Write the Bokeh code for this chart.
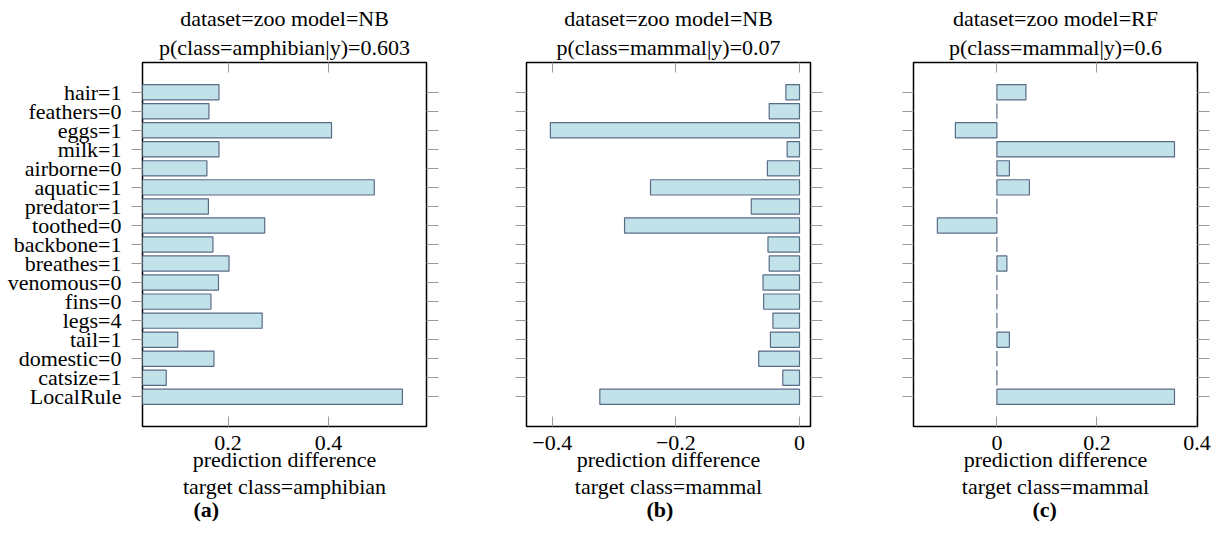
from bokeh.plotting import figure
from bokeh.models import (FactorRange, Range1d, LinearAxis, CategoricalAxis, FixedTicker,
                          CustomJSTickFormatter, Title, ColumnDataSource)
from bokeh.layouts import row
from bokeh.embed import file_html
from bokeh.resources import INLINE

features = ["hair=1", "feathers=0", "eggs=1", "milk=1", "airborne=0", "aquatic=1",
            "predator=1", "toothed=0", "backbone=1", "breathes=1", "venomous=0", "fins=0",
            "legs=4", "tail=1", "domestic=0", "catsize=1", "LocalRule"]

diff_a = [0.182, 0.162, 0.406, 0.182, 0.158, 0.491, 0.161, 0.273, 0.170, 0.202,
          0.181, 0.166, 0.268, 0.100, 0.172, 0.077, 0.547]
diff_b = [-0.022, -0.049, -0.403, -0.020, -0.052, -0.241, -0.078, -0.283, -0.051, -0.049,
          -0.059, -0.058, -0.043, -0.047, -0.066, -0.027, -0.323]
diff_c = [0.058, 0.0, -0.083, 0.355, 0.025, 0.065, 0.0, -0.119, 0.0, 0.020,
          0.0, 0.0, 0.0, 0.025, 0.0, 0.0, 0.355]

titles_1 = ["dataset=zoo model=NB", "dataset=zoo model=NB", "dataset=zoo model=RF"]
titles_2 = ["p(class=amphibian|y)=0.603", "p(class=mammal|y)=0.07", "p(class=mammal|y)=0.6"]
targets = ["target class=amphibian", "target class=mammal", "target class=mammal"]
captions = ["(a)", "(b)", "(c)"]
xlims = [(0.0298, 0.595), (-0.4416, 0.0178), (-0.1667, 0.401)]
xticks = [[0.2, 0.4], [-0.4, -0.2, 0], [0, 0.2, 0.4]]
x_label = "prediction difference"

FONT = "Liberation Serif"
FS = "22px"
TICK = "#9a9a9a"
FILL = "#c1e2e8"
EDGE = "#5a6b88"

fmt_js = "if (Math.abs(tick) < 1e-9) return '0'; return (tick < 0 ? '\u2212' : '') + Math.abs(tick).toFixed(1);"
blank_js = "return '';"


def panel(vals, xlim, ticks, t1, t2, target, caption, cap_off, show_y, lb, rb):
    yr = FactorRange(factors=list(reversed(features)), range_padding=1.06,
                     range_padding_units="absolute")
    p = figure(y_range=yr, x_range=Range1d(*xlim), frame_width=284, frame_height=364,
               output_backend="svg", toolbar_location=None, title_location=None,
               x_axis_location=None, y_axis_location=None,
               min_border_left=lb, min_border_right=rb, min_border_top=62, min_border_bottom=100)
    p.xgrid.visible = False
    p.ygrid.visible = False
    p.outline_line_color = "black"
    p.outline_line_width = 1.5
    p.background_fill_color = "white"
    p.border_fill_color = "white"

    src = ColumnDataSource(dict(f=features, v=vals, z=[0] * len(vals)))
    p.hbar(y="f", left="z", right="v", height=0.8, source=src,
           fill_color=FILL, line_color=EDGE, line_width=1.2)

    # y axes (ticks outward on both sides)
    left = CategoricalAxis(major_tick_out=11, major_tick_in=0, major_tick_line_color=TICK,
                           axis_line_color=None, major_label_standoff=10,
                           major_label_text_font=FONT, major_label_text_font_size=FS if show_y else "1px",
                           major_label_text_color="black")
    if not show_y:
        left.formatter = CustomJSTickFormatter(code=blank_js)
        left.major_label_standoff = 0
    right = CategoricalAxis(major_tick_out=12, major_tick_in=0, major_tick_line_color=TICK,
                            axis_line_color=None, major_label_standoff=0,
                            major_label_text_font_size="1px",
                            formatter=CustomJSTickFormatter(code=blank_js))
    p.add_layout(left, "left")
    p.add_layout(right, "right")

    # x axes (ticks inward top and bottom)
    bottom = LinearAxis(ticker=FixedTicker(ticks=ticks), major_tick_in=10, major_tick_out=0,
                        minor_tick_line_color=None, major_tick_line_color=TICK,
                        axis_line_color=None, major_label_standoff=9,
                        major_label_text_font=FONT, major_label_text_font_size=FS,
                        major_label_text_color="black",
                        formatter=CustomJSTickFormatter(code=fmt_js),
                        axis_label=x_label, axis_label_standoff=-6,
                        axis_label_text_font=FONT, axis_label_text_font_size=FS,
                        axis_label_text_font_style="normal", axis_label_text_color="black")
    top = LinearAxis(ticker=FixedTicker(ticks=ticks), major_tick_in=10, major_tick_out=0,
                     minor_tick_line_color=None, major_tick_line_color=TICK,
                     axis_line_color=None, major_label_standoff=0,
                     major_label_text_font_size="1px",
                     formatter=CustomJSTickFormatter(code=blank_js))
    p.add_layout(bottom, "below")
    p.add_layout(top, "above")

    p.add_layout(Title(text=t2, align="center", text_font=FONT, text_font_size=FS,
                       text_font_style="normal", text_color="black", standoff=6), "above")
    p.add_layout(Title(text=t1, align="center", text_font=FONT, text_font_size=FS,
                       text_font_style="normal", text_color="black", standoff=-2), "above")
    p.add_layout(Title(text=target, align="center", text_font=FONT, text_font_size=FS,
                       text_font_style="normal", text_color="black", standoff=-6), "below")
    p.add_layout(Title(text=caption, align="left", offset=cap_off, text_font=FONT,
                       text_font_size=FS, text_font_style="bold", text_color="black",
                       standoff=-1), "below")
    return p


pa = panel(diff_a, xlims[0], xticks[0], titles_1[0], titles_2[0], targets[0], captions[0], 51, True, 142, 50)
pb = panel(diff_b, xlims[1], xticks[1], titles_1[1], titles_2[1], targets[1], captions[1], 120, False, 50, 51)
pc = panel(diff_c, xlims[2], xticks[2], titles_1[2], titles_2[2], targets[2], captions[2], 119, False, 52, 14)

layout = row(pa, pb, pc, spacing=0)
open("out.html", "w").write(file_html(layout, INLINE))
